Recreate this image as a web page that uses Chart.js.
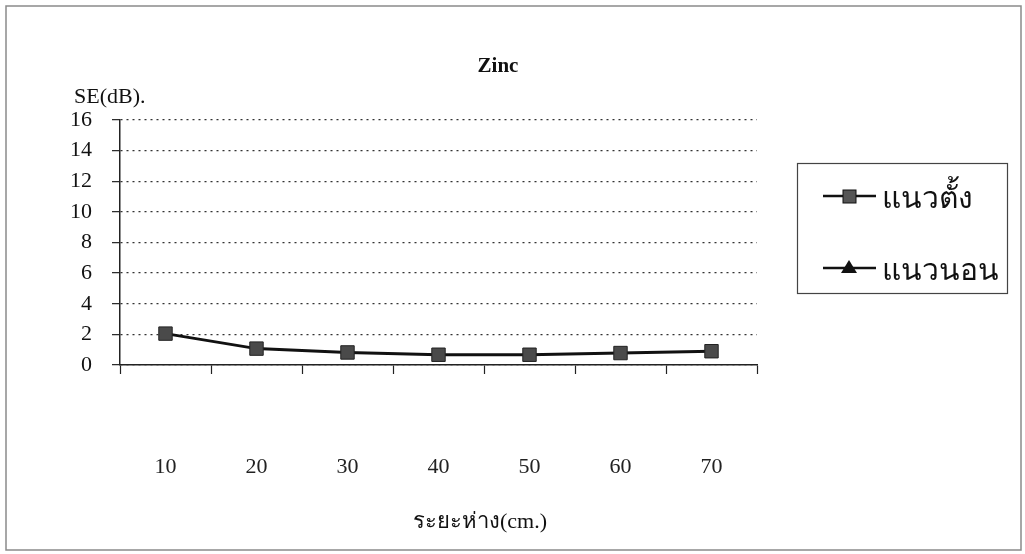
<!DOCTYPE html>
<html>
<head>
<meta charset="utf-8">
<script src="https://cdn.jsdelivr.net/npm/chart.js@4/dist/chart.umd.min.js"></script>
<style>
html,body{margin:0;padding:0;background:#fff;}
#wrap{position:relative;width:1025px;height:554px;}
</style>
</head>
<body>
<div id="wrap"><canvas id="c" width="1025" height="554"></canvas></div>
<script>
const categories = ['10', '20', '30', '40', '50', '60', '70'];
const verticalValues = [2.05, 1.07, 0.82, 0.67, 0.67, 0.78, 0.9];
const horizontalValues = [];
const seriesNames = ['แนวตั้ง', 'แนวนอน'];
const yTicks = [0, 2, 4, 6, 8, 10, 12, 14, 16];
const chartTitle = 'Zinc';
const yTitle = 'SE(dB).';
const xTitle = 'ระยะห่าง(cm.)';

const serif = '"Liberation Serif", "Times New Roman", serif';

const decor = {
  id: 'decor',
  beforeDraw(chart) {
    const ctx = chart.ctx;
    ctx.save();
    ctx.fillStyle = '#fff';
    ctx.fillRect(0, 0, chart.width, chart.height);
    ctx.strokeStyle = '#8a8a8a';
    ctx.lineWidth = 1.5;
    ctx.strokeRect(6, 6, 1015, 544);
    ctx.restore();
  },
  afterDraw(chart) {
    const ctx = chart.ctx;
    ctx.save();
    ctx.fillStyle = '#111';
    ctx.textBaseline = 'middle';
    ctx.textAlign = 'center';
    ctx.font = 'bold 21px ' + serif;
    ctx.fillText(chartTitle, 498, 67);
    ctx.font = '22px ' + serif;
    ctx.textAlign = 'left';
    ctx.fillText(yTitle, 74, 97);
    ctx.textAlign = 'center';
    ctx.font = '22px ' + serif;
    ctx.fillText(xTitle, 480, 522);
    // legend
    ctx.strokeStyle = '#444';
    ctx.lineWidth = 1.2;
    ctx.strokeRect(797.5, 163.5, 210, 130);
    const items = [
      {y: 196, style: 'rect'},
      {y: 268, style: 'triangle'}
    ];
    items.forEach((it, i) => {
      ctx.strokeStyle = '#111';
      ctx.lineWidth = 2.5;
      ctx.beginPath();
      ctx.moveTo(823, it.y);
      ctx.lineTo(876, it.y);
      ctx.stroke();
      ctx.fillStyle = i === 0 ? '#555' : '#111';
      ctx.strokeStyle = '#111';
      ctx.lineWidth = 1;
      if (it.style === 'rect') {
        ctx.fillRect(843, it.y - 6, 13, 13);
        ctx.strokeRect(843, it.y - 6, 13, 13);
      } else {
        ctx.beginPath();
        ctx.moveTo(849, it.y - 8);
        ctx.lineTo(857, it.y + 5);
        ctx.lineTo(841, it.y + 5);
        ctx.closePath();
        ctx.fill();
      }
      ctx.fillStyle = '#111';
      ctx.textAlign = 'left';
      ctx.font = '30px ' + serif;
      ctx.fillText(seriesNames[i], 882, it.y + 4);
    });
    ctx.restore();
  }
};

new Chart(document.getElementById('c'), {
  type: 'line',
  data: {
    labels: categories,
    datasets: [
      {
        label: seriesNames[0],
        data: verticalValues,
        borderColor: '#111',
        borderWidth: 3,
        pointStyle: 'rect',
        pointRadius: 9.5,
        pointBackgroundColor: '#4a4a4a',
        pointBorderColor: '#222',
        pointBorderWidth: 1,
        tension: 0,
        fill: false
      },
      {
        label: seriesNames[1],
        data: horizontalValues,
        borderColor: '#111',
        borderWidth: 3,
        pointStyle: 'triangle',
        pointRadius: 8,
        pointBackgroundColor: '#111',
        fill: false
      }
    ]
  },
  plugins: [decor],
  options: {
    responsive: false,
    animation: false,
    events: [],
    layout: {padding: {left: 0, right: 268, top: 120, bottom: 10}},
    plugins: {legend: {display: false}, title: {display: false}, tooltip: {enabled: false}},
    scales: {
      x: {
        offset: true,
        grid: {display: true, offset: true, drawOnChartArea: false, drawTicks: true, tickLength: 9, tickColor: '#222', tickWidth: 1.2},
        border: {display: true, color: '#222', width: 1.5},
        ticks: {padding: 80, color: '#222', font: {family: serif, size: 22}, maxRotation: 0, autoSkip: false},
        afterFit(s) { s.height = 554 - 10 - 365; }
      },
      y: {
        min: 0,
        max: 16,
        afterBuildTicks(s) { s.ticks = yTicks.map(v => ({value: v})); },
        grid: {color: '#333', lineWidth: 1.3, drawTicks: true, tickLength: 8, tickColor: '#222', tickWidth: 1.2, tickBorderDash: []},
        border: {display: true, color: '#222', width: 1.5, dash: [2, 4]},
        ticks: {padding: 20, color: '#111', font: {family: serif, size: 22}},
        afterFit(s) { s.width = 120; }
      }
    }
  }
});
</script>
</body>
</html>
